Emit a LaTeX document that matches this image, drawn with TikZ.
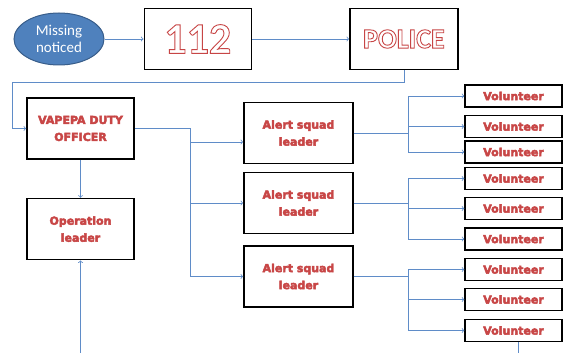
\documentclass[tikz,border=0pt]{standalone}
\usepackage{fontspec}
\setmainfont{Carlito}
\newfontfamily\labelfont{DejaVu Sans}
\usetikzlibrary{positioning,shapes.geometric}

\definecolor{linkblue}{RGB}{95,140,200}
\definecolor{ovalblue}{RGB}{79,129,189}
\definecolor{ovalline}{RGB}{56,93,138}
\definecolor{labelred}{RGB}{200,70,70}

% outlined text: fill white, red stroke
\newcommand{\hollow}[1]{{\color{white}\special{pdf:literal direct 2 Tr 0.9 w 0.78 0.27 0.27 RG}#1\special{pdf:literal direct 0 Tr 0 G 1.6 w}}}

\tikzset{
  link/.style={draw=linkblue, line width=0.8pt},
  box/.style={draw=black, line width=1.6pt, fill=white, align=center, inner sep=0pt},
  redlabel/.style={text=labelred, font=\labelfont\bfseries\fontsize{11}{17}\selectfont,
    execute at begin node={\special{pdf:literal direct 2 Tr 0.45 w 0.78 0.27 0.27 RG}},
    execute at end node={\special{pdf:literal direct 0 Tr 0 G 1.6 w}}},
  bigbox/.style={box, minimum width=107pt, minimum height=61pt},
  volbox/.style={box, line width=1.3pt, minimum width=97pt, minimum height=22pt},
}

\begin{document}
\begin{tikzpicture}[x=1pt, y=-1pt, node distance=39pt]
  \useasboundingbox (0,0) rectangle (563,353);
  \node[ellipse, draw=ovalline, line width=1pt, fill=ovalblue, text=white, minimum width=90pt, minimum height=52pt, inner sep=0pt, align=center, font=\fontsize{15}{17}\selectfont] (missing) at (59,39) {Missing\\noticed};
  \node[bigbox, right=of missing, font=\bfseries\fontsize{44}{44}\selectfont] (emergency) {\hollow{112}};
  \node[bigbox, right=97pt of emergency, minimum width=108pt, font=\bfseries\fontsize{28}{28}\selectfont] (police) {\hollow{POLICE}};
  \node[bigbox, redlabel] (duty) at (80.5,128.5) {VAPEPA DUTY\\OFFICER};
  \node[bigbox, redlabel, below=38pt of duty] (oplead) {Operation\\leader};
  \foreach \n/\y in {1/133, 2/203, 3/276.5}
    \node[bigbox, redlabel, minimum width=109pt] (squad\n) at (298.5,\y) {Alert squad\\leader};
  \foreach \n/\y in {1/96, 2/126.5, 3/152, 4/178.5, 5/208.5, 6/239, 7/269.5, 8/299.5, 9/330.5}
    \node[volbox, redlabel] (vol\n) at (513.5,\y) {Volunteer};
  % frames of the two top boxes again, on top
  \foreach \b in {emergency, police}
    \draw[draw=black, line width=1.6pt] ([xshift=0.8pt,yshift=0.8pt]\b.south west) rectangle ([xshift=-0.8pt,yshift=-0.8pt]\b.north east);

  \draw[link,->] (missing) -- (emergency);
  \draw[link,->] (emergency) -- (police);
  \coordinate (loopback) at (12,82);
  \draw[link,->] (police.south) |- (loopback) |- (duty.west);
  \draw[link,->] (duty) -- (oplead);
  \coordinate (opfeed) at (80.5,353);
  \draw[link,->] (opfeed) -- (oplead);
  \coordinate (split) at (190,128.5);
  \draw[link] (duty.east) -- (split);
  \draw[link,->] (split) |- ([yshift=-9pt]squad1.west);
  \foreach \n in {2,3}
    \draw[link,->] (split) |- (squad\n.west);
  \foreach \s/\v in {1/1, 1/2, 1/3, 2/4, 2/5, 2/6, 3/7, 3/8, 3/9}
    \draw[link,->] (squad\s.east) -- ++(55,0) |- (vol\v.west);
  \coordinate (volout) at (518,353);
  \draw[link] (vol9.south -| volout) -- (volout);
\end{tikzpicture}
\end{document}
